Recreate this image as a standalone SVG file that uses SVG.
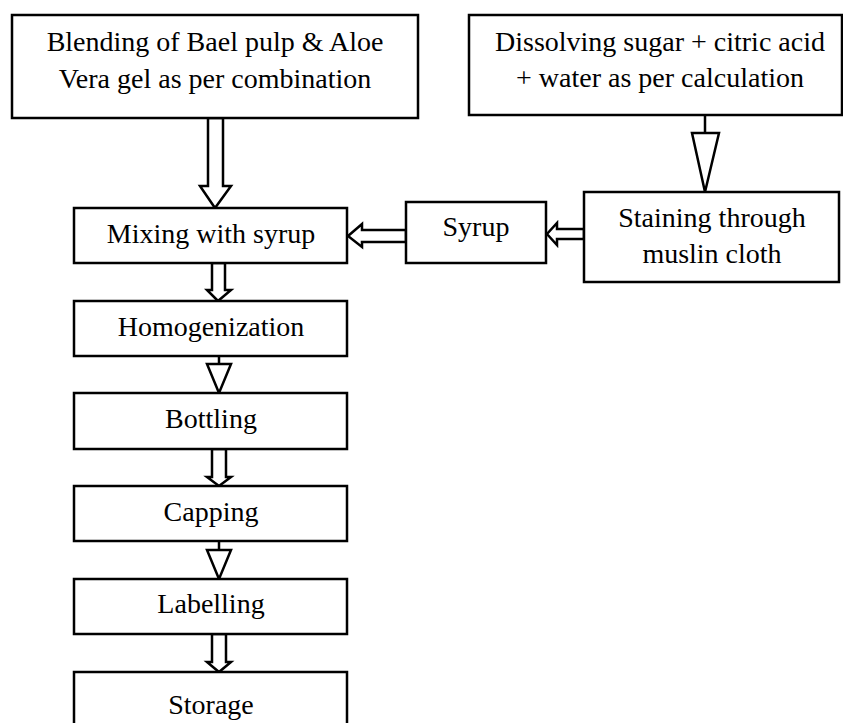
<svg xmlns="http://www.w3.org/2000/svg" width="843" height="723" viewBox="0 0 843 723">
<style>
.box{fill:#fff;stroke:#000;stroke-width:2.5}
.arr{fill:#fff;stroke:#000;stroke-width:2.5;stroke-linejoin:miter}
.ln{stroke:#000;stroke-width:2.5;fill:none}
text{font-family:"Liberation Serif","Times New Roman",serif;font-size:28px;fill:#000;text-anchor:middle}
</style>
<rect width="843" height="723" fill="#fff"/>
<g id="connectors">
<polygon class="arr" points="208,118 223,118 223,186 231,186 215,208 200,186 208,186"/>
<line class="ln" x1="705" y1="115" x2="705" y2="133"/>
<polygon class="arr" points="692,133 719,133 705,192"/>
<polygon class="arr" points="584,229 557,229 557,223 547,234 557,245 557,239 584,239"/>
<polygon class="arr" points="406,230 362,230 362,224 348,236 362,247 362,242 406,242"/>
<polygon class="arr" points="212,263 225,263 225,290 231,290 218,301 207,290 212,290"/>
<line class="ln" x1="219" y1="356" x2="219" y2="364"/>
<polygon class="arr" points="207,364 231,364 219,393"/>
<polygon class="arr" points="212,449 226,449 226,477 231,477 219,486 207,477 212,477"/>
<line class="ln" x1="219" y1="541" x2="219" y2="550"/>
<polygon class="arr" points="207,550 231,550 219,579"/>
<polygon class="arr" points="212,634 226,634 226,662 231,662 219,672 207,662 212,662"/>
</g>
<g id="blending"><rect class="box" x="12" y="15" width="406" height="103"/><text x="215" y="51">Blending of Bael pulp &amp; Aloe</text><text x="215" y="88">Vera gel as per combination</text></g>
<g id="dissolving"><rect class="box" x="469" y="15" width="373" height="100"/><text x="660" y="51">Dissolving sugar + citric acid</text><text x="660" y="87">+ water as per calculation</text></g>
<g id="staining"><rect class="box" x="584" y="192" width="255" height="90"/><text x="712" y="227">Staining through</text><text x="712" y="263">muslin cloth</text></g>
<g id="syrup"><rect class="box" x="406" y="202" width="140" height="61"/><text x="476" y="236">Syrup</text></g>
<g id="mixing"><rect class="box" x="74" y="208" width="273" height="55"/><text x="211" y="243">Mixing with syrup</text></g>
<g id="homogenization"><rect class="box" x="74" y="301" width="273" height="55"/><text x="211" y="336">Homogenization</text></g>
<g id="bottling"><rect class="box" x="74" y="393" width="273" height="56"/><text x="211" y="428">Bottling</text></g>
<g id="capping"><rect class="box" x="74" y="486" width="273" height="55"/><text x="211" y="521">Capping</text></g>
<g id="labelling"><rect class="box" x="74" y="579" width="273" height="55"/><text x="211" y="613">Labelling</text></g>
<g id="storage"><rect class="box" x="74" y="672" width="273" height="60"/><text x="211" y="714">Storage</text></g>
</svg>
